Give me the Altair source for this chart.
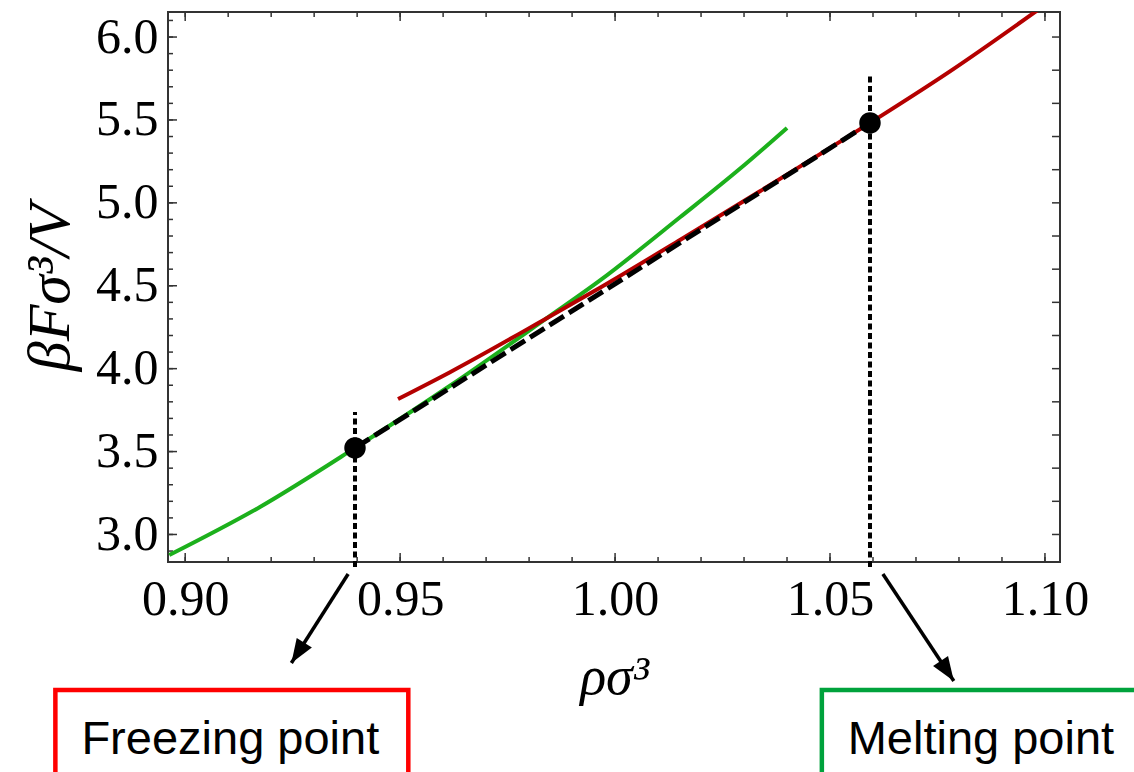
import altair as alt
import pandas as pd

# ---- data ----
fluid_rho = [0.8963, 0.9174, 0.9395, 0.9616, 0.9842, 0.9965, 1.0151, 1.0291, 1.0400]
fluid_f = [2.876, 3.166, 3.522, 3.897, 4.306, 4.532, 4.913, 5.207, 5.452]

solid_rho = [0.9495, 0.9616, 0.9842, 0.9965, 1.0151, 1.0337, 1.0593, 1.0779, 1.0984]
solid_f = [3.817, 3.979, 4.306, 4.488, 4.776, 5.070, 5.482, 5.793, 6.164]

coex_rho = [0.9395, 1.0593]          # freezing, melting densities
coex_f = [3.522, 5.482]
marker_top = [3.739, 5.765]          # top of the dotted guide lines
marker_bottom = [2.804, 2.804]       # guides run a little below the frame

x_major = [0.90, 0.95, 1.00, 1.05, 1.10]
y_major = [3.0, 3.5, 4.0, 4.5, 5.0, 5.5, 6.0]
x_minor = [round(0.90 + 0.01 * i, 2) for i in range(21)]
y_minor = [round(2.9 + 0.1 * i, 1) for i in range(33)]
y_right = [round(3.0 + 0.2 * i, 1) for i in range(16)]

# annotations (arrows and labelled boxes), data coordinates
arrow_rho = [0.9379, 1.0623]
arrow_f = [2.762, 2.762]
arrow_tip_rho = [0.9247, 1.0788]
arrow_tip_f = [2.225, 2.116]
arrow_angle = [212.6, 146.4]
box_labels = ["Freezing point", "Melting point"]
box_colors = ["#ff0000", "#00a23c"]
box_x1 = [0.8698, 1.0481]
box_x2 = [0.9519, 1.1225]
box_y1 = [2.062, 2.062]
box_y2 = [1.540, 1.540]
text_rho = [0.9105, 1.0851]
text_f = [1.675, 1.675]

X_DOM = [0.896, 1.1035]
Y_DOM = [2.834, 6.151]
W, H = 892, 550

SERIF = "Liberation Serif"
xs = alt.Scale(domain=X_DOM, nice=False, zero=False)
ys = alt.Scale(domain=Y_DOM, nice=False, zero=False)

x_enc = alt.X("rho:Q", scale=xs, axis=alt.Axis(
    values=x_major, format=".2f", ticks=False, domain=False, grid=False,
    title="ρσ³", titleFont=SERIF, titleFontStyle="italic", titleFontWeight="normal",
    titleFontSize=54, titlePadding=26, titleColor="black",
    labelFont=SERIF, labelFontSize=50, labelColor="black", labelPadding=12))
y_enc = alt.Y("f:Q", scale=ys, axis=alt.Axis(
    values=y_major, format=".1f", ticks=False, domain=False, grid=False,
    title="βFσ³/V", titleFont=SERIF, titleFontStyle="italic", titleFontWeight="normal",
    titleFontSize=60, titlePadding=14, titleColor="black",
    labelFont=SERIF, labelFontSize=50, labelColor="black", labelPadding=10))

fluid = pd.DataFrame({"rho": fluid_rho, "f": fluid_f})
solid = pd.DataFrame({"rho": solid_rho, "f": solid_f})
coex = pd.DataFrame({"rho": coex_rho, "f": coex_f})
guides = pd.DataFrame({"rho": coex_rho, "f": marker_bottom, "f2": marker_top})
arrows = pd.DataFrame({"rho": arrow_rho, "f": arrow_f, "rho2": arrow_tip_rho,
                       "f2": arrow_tip_f, "angle": arrow_angle})
tips = pd.DataFrame({"rho": arrow_tip_rho, "f": arrow_tip_f, "angle": arrow_angle})
boxes = pd.DataFrame({"rho": box_x1, "rho2": box_x2, "f": box_y1, "f2": box_y2,
                      "col": box_colors})
texts = pd.DataFrame({"rho": text_rho, "f": text_f, "label": box_labels})

TICK = "#333333"
def xticks(vals, length, top):
    d = pd.DataFrame({"rho": vals})
    y0 = 0 if top else H
    y1 = length if top else H - length
    return alt.Chart(d).mark_rule(color=TICK, strokeWidth=1.5).encode(
        x=x_enc, y=alt.value(y0), y2=alt.value(y1))

def yticks(vals, length, right):
    d = pd.DataFrame({"f": [v for v in vals if Y_DOM[0] <= v <= Y_DOM[1]]})
    x0 = W if right else 0
    x1 = W - length if right else length
    return alt.Chart(d).mark_rule(color=TICK, strokeWidth=1.5).encode(
        y=y_enc, x=alt.value(x0), x2=alt.value(x1))

layers = [
    xticks(x_minor, 5, False), xticks(x_major, 9, False),
    xticks(x_minor, 5, True), xticks(x_major, 9, True),
    yticks(y_minor, 5, False), yticks(y_major, 9, False),
    yticks(y_right, 8, True),
    alt.Chart(fluid).mark_line(color="#1cb01c", strokeWidth=4, clip=True,
                               interpolate="monotone").encode(x=x_enc, y=y_enc),
    alt.Chart(solid).mark_line(color="#b40000", strokeWidth=4, clip=True,
                               interpolate="monotone").encode(x=x_enc, y=y_enc),
    alt.Chart(coex).mark_line(color="black", strokeWidth=5, strokeDash=[17, 6]).encode(x=x_enc, y=y_enc),
    alt.Chart(guides).mark_rule(color="black", strokeWidth=4, strokeDash=[6, 3.5], clip=False).encode(
        x=x_enc, y=y_enc, y2="f2:Q"),
    alt.Chart(coex).mark_circle(color="black", opacity=1, size=460).encode(x=x_enc, y=y_enc),
    alt.Chart(arrows).mark_rule(color="black", strokeWidth=3.5, clip=False).encode(
        x=x_enc, y=y_enc, x2="rho2:Q", y2="f2:Q"),
    alt.Chart(tips).mark_point(shape="M0,0L0.6,1.6L-0.6,1.6Z", filled=True, color="black",
                               opacity=1, size=900, clip=False).encode(
        x=x_enc, y=y_enc, angle=alt.Angle("angle:Q", scale=None)),
    alt.Chart(boxes).mark_rect(fill="white", strokeWidth=4.5, clip=False).encode(
        x=x_enc, x2="rho2:Q", y=y_enc, y2="f2:Q", stroke=alt.Stroke("col:N", scale=None)),
    alt.Chart(texts).mark_text(font="Liberation Sans", fontSize=47, color="black",
                               align="center", baseline="alphabetic", clip=False).encode(
        x=x_enc, y=y_enc, text="label:N"),
]

chart = alt.layer(*layers).properties(
    width=W, height=H,
    padding={"left": 168, "top": 12, "right": 74, "bottom": 210},
    autosize=alt.AutoSizeParams(type="none"),
    background="white",
).configure_view(stroke="#333333", strokeWidth=2)

chart.save("out.html", embed_options={"renderer": "svg", "actions": False})
